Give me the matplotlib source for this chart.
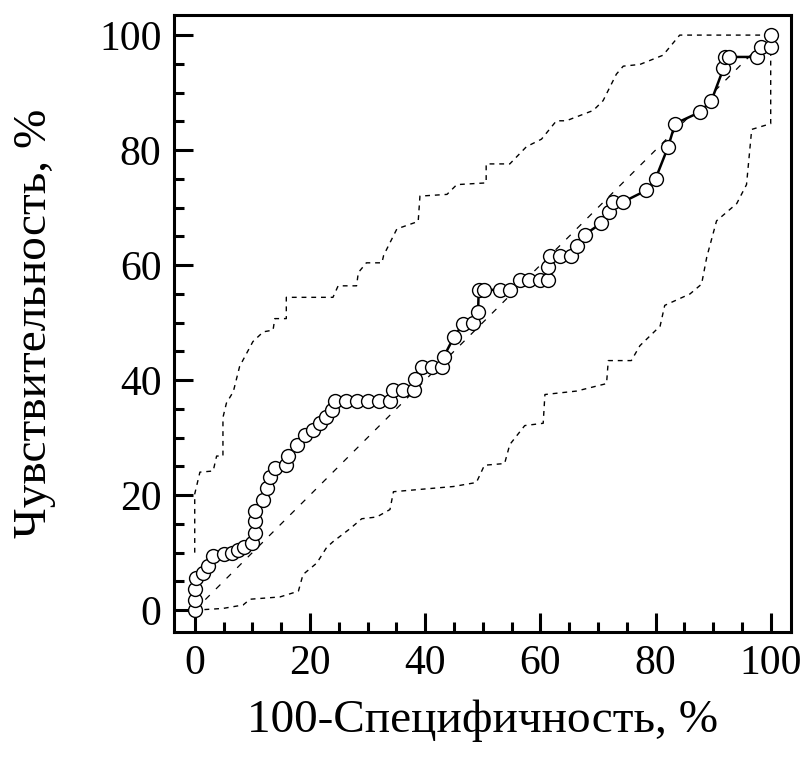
import matplotlib
matplotlib.use('Agg')
import matplotlib.pyplot as plt
import numpy as np
from matplotlib.ticker import MultipleLocator

# ROC curve (100-specificity, sensitivity), %
roc_fpr = [0, 0, 0, 0.3, 1.5, 2.3, 3.2, 5.0, 6.5, 7.5, 8.5, 9.9, 10.4, 10.4, 10.4,
           11.9, 12.5, 13.0, 13.9, 15.9, 16.2, 17.7, 19.1, 20.5, 21.7, 22.8, 23.8,
           24.3, 26.3, 28.2, 30.1, 32.0, 33.9, 34.5, 36.2, 38.0, 38.3, 39.4, 41.2,
           43.0, 43.2, 45.0, 46.6, 48.4, 49.2, 49.3, 50.3, 53.0, 54.7, 56.4, 58.1,
           60.0, 61.3, 61.3, 61.6, 63.4, 65.4, 66.3, 67.7, 70.6, 72.0, 72.6, 74.4,
           78.4, 80.0, 82.2, 83.4, 87.7, 89.7, 91.8, 92.0, 92.8, 97.6, 98.4, 100, 100]
roc_tpr = [0, 1.8, 3.6, 5.6, 6.5, 7.6, 9.4, 9.8, 10.0, 10.5, 11.0, 11.6, 13.5, 15.5, 17.2,
           19.2, 21.2, 23.2, 24.8, 25.2, 26.8, 28.8, 30.5, 31.3, 32.5, 33.6, 34.8,
           36.4, 36.4, 36.4, 36.4, 36.4, 36.4, 38.3, 38.3, 38.3, 40.2, 42.2, 42.2,
           42.2, 44.0, 47.5, 49.8, 50.0, 51.9, 55.7, 55.7, 55.7, 55.7, 57.4, 57.4,
           57.4, 57.4, 59.7, 61.5, 61.5, 61.5, 63.3, 65.3, 67.3, 69.3, 71.0, 71.0,
           73.0, 75.0, 80.6, 84.6, 86.6, 88.6, 94.2, 96.2, 96.2, 96.2, 98.0, 98.0, 100]

# upper confidence band
upper_x = [0, 0, 0.9, 3.2, 3.8, 4.9, 4.9, 5.5, 6.7, 7.8, 10.1, 11.9, 13.6, 13.9, 15.9,
           15.9, 24.0, 24.9, 28.1, 28.4, 29.8, 32.5, 32.8, 35.1, 38.8, 39.1, 43.8,
           45.5, 50.6, 50.6, 54.7, 57.6, 60.2, 62.8, 64.5, 69.2, 70.9, 73.2, 74.4,
           77.3, 81.3, 84.2, 100]
upper_y = [10, 20.2, 24.0, 24.2, 26.8, 26.8, 33.5, 36.0, 38.0, 42.4, 46.7, 48.4, 48.7,
           50.7, 50.7, 54.4, 54.4, 56.4, 56.4, 58.7, 60.4, 60.4, 61.7, 66.3, 67.6,
           72.0, 72.3, 74.0, 74.3, 77.6, 77.6, 80.6, 81.9, 85.1, 85.1, 86.9, 88.6,
           93.2, 94.6, 94.9, 96.5, 100, 100]

# lower confidence band
lower_x = [0, 4.9, 8.4, 9.6, 14.8, 18.0, 18.8, 21.2, 22.9, 24.0, 27.0, 29.0, 31.6,
           33.9, 34.5, 44.9, 48.9, 50.3, 53.8, 54.7, 57.3, 60.5, 60.8, 66.3, 71.5,
           71.8, 75.8, 77.3, 80.8, 81.6, 86.0, 88.0, 88.9, 90.6, 94.1, 95.8, 96.7,
           100, 100]
lower_y = [0, 0.3, 0.9, 1.9, 2.3, 3.3, 6.2, 8.2, 10.9, 11.9, 14.2, 15.9, 16.2, 17.5,
           20.6, 21.5, 22.2, 25.2, 25.5, 28.8, 32.1, 32.5, 37.5, 38.1, 39.4, 43.4,
           43.4, 46.0, 49.4, 53.0, 55.0, 56.7, 61.4, 67.7, 70.7, 74.0, 83.6, 84.6, 98]

plt.rcParams['font.family'] = ['Liberation Serif', 'DejaVu Serif']

fig = plt.figure(figsize=(8.07, 7.6), dpi=100)
ax = fig.add_axes([0.2156, 0.1684, 0.7644, 0.8119])

ax.plot([0, 100], [0, 100], color='k', lw=0.9, dashes=(5, 7))
ax.plot(upper_x, upper_y, color='k', lw=1.0, dashes=(3.5, 3.5))
ax.plot(lower_x, lower_y, color='k', lw=1.0, dashes=(3.5, 3.5))
ax.plot(roc_fpr, roc_tpr, color='k', lw=1.8, marker='o', ms=10,
        mfc='white', mec='k', mew=1.0)

ax.set_xlim(-3.6, 103.5)
ax.set_ylim(-3.8, 103.5)
ax.xaxis.set_major_locator(MultipleLocator(20))
ax.xaxis.set_minor_locator(MultipleLocator(5))
ax.yaxis.set_major_locator(MultipleLocator(20))
ax.yaxis.set_minor_locator(MultipleLocator(5))
ax.tick_params(which='both', direction='in', top=False, right=False, width=2.2)
ax.tick_params(which='major', length=14, pad=9, labelsize=30)
ax.tick_params(which='minor', length=7)
for s in ax.spines.values():
    s.set_linewidth(2.2)

ax.set_xlabel('100-Специфичность, %', fontsize=34, labelpad=12)
ax.set_ylabel('Чувствительность, %', fontsize=34, labelpad=31)

fig.savefig('out.png', dpi=100)
